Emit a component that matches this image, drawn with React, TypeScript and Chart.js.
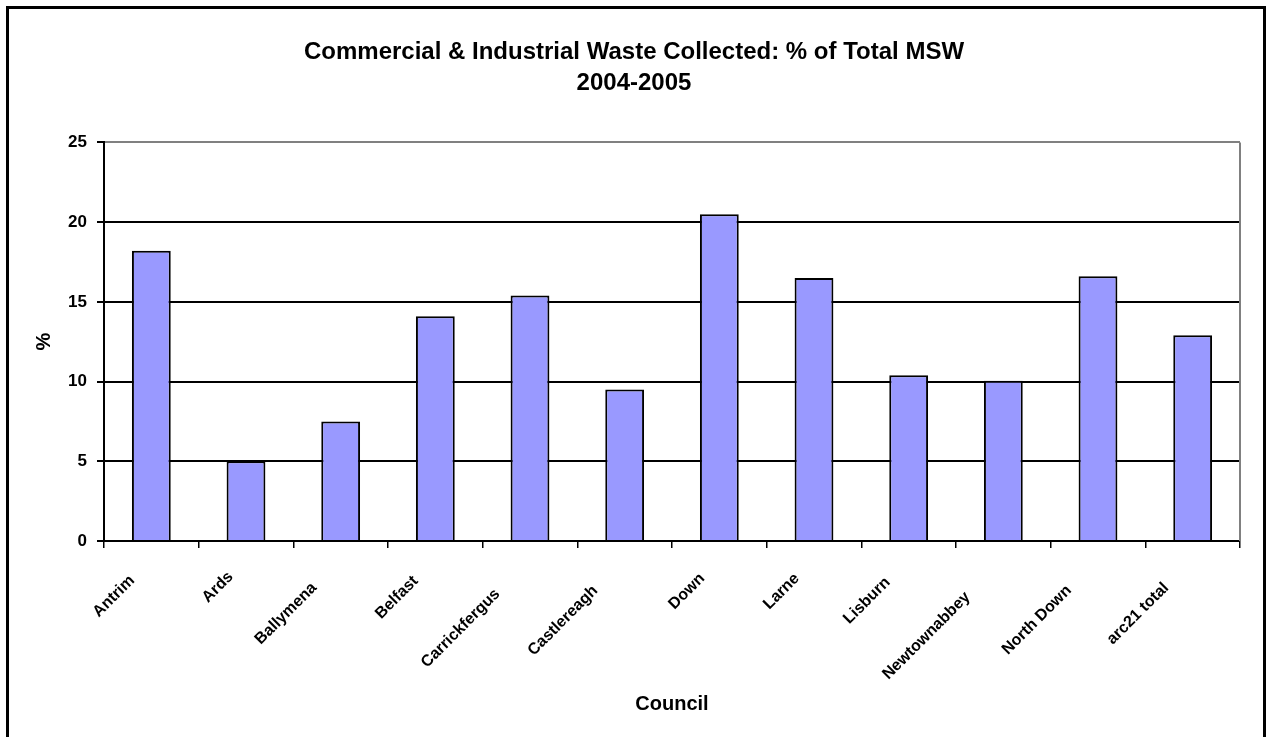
import React, { useEffect, useRef } from "react";
import { Chart, registerables } from "chart.js";

Chart.register(...registerables);

const councils = [
  "Antrim",
  "Ards",
  "Ballymena",
  "Belfast",
  "Carrickfergus",
  "Castlereagh",
  "Down",
  "Larne",
  "Lisburn",
  "Newtownabbey",
  "North Down",
  "arc21 total",
];
const percentValues = [18.2, 5.0, 7.5, 14.1, 15.4, 9.5, 20.5, 16.5, 10.4, 10.05, 16.6, 12.9];
const titleLines = ["Commercial & Industrial Waste Collected: % of Total MSW", "2004-2005"];
const yAxisTitle = "%";
const xAxisTitle = "Council";

const FONT = "'Liberation Sans', Arial, Helvetica, sans-serif";

const framePlugin = {
  id: "framePlugin",
  beforeDraw(chart: any) {
    const ctx = chart.ctx;
    ctx.save();
    ctx.fillStyle = "#ffffff";
    ctx.fillRect(0, 0, chart.width, chart.height);
    ctx.strokeStyle = "#000000";
    ctx.lineWidth = 3;
    ctx.beginPath();
    ctx.moveTo(7.5, chart.height + 10);
    ctx.lineTo(7.5, 7.5);
    ctx.lineTo(chart.width - 5.5, 7.5);
    ctx.lineTo(chart.width - 5.5, chart.height + 10);
    ctx.stroke();
    ctx.restore();
  },
  afterDatasetsDraw(chart: any) {
    const { ctx, chartArea } = chart;
    ctx.save();
    ctx.strokeStyle = "#808080";
    ctx.lineWidth = 2;
    ctx.beginPath();
    ctx.moveTo(chartArea.right, chartArea.top);
    ctx.lineTo(chartArea.right, chartArea.bottom);
    ctx.stroke();
    ctx.restore();
  },
  afterDraw(chart: any) {
    // Excel-style rotated category labels, positioned from the x scale
    const { ctx } = chart;
    const xScale = chart.scales.x;
    const axisY = xScale.top;
    ctx.save();
    ctx.font = "bold 16px " + FONT;
    ctx.fillStyle = "#000000";
    ctx.textAlign = "right";
    ctx.textBaseline = "middle";
    const labels = chart.data.labels as string[];
    labels.forEach((label, i) => {
      const cx = xScale.getPixelForTick(i);
      const w = ctx.measureText(label).width;
      ctx.save();
      ctx.translate(cx - 6, axisY + 24);
      ctx.rotate(-Math.PI / 4);
      ctx.fillText(label, -0.36 * w, 0);
      ctx.restore();
    });
    ctx.restore();
  },
};

export default function App() {
  const canvasRef = useRef<HTMLCanvasElement | null>(null);

  useEffect(() => {
    if (!canvasRef.current) return;
    const chart = new Chart(canvasRef.current, {
      type: "bar",
      data: {
        labels: councils,
        datasets: [
          {
            label: "% of Total MSW",
            data: percentValues,
            backgroundColor: "#9999FF",
            borderColor: "#000000",
            borderWidth: 2,
            barPercentage: 0.41,
            categoryPercentage: 1,
          },
        ],
      },
      options: {
        responsive: false,
        animation: false,
        layout: { padding: { left: 28, right: 30, top: 0, bottom: 0 } },
        plugins: {
          legend: { display: false },
          tooltip: { enabled: false },
          title: {
            display: true,
            text: titleLines,
            color: "#000000",
            font: { family: FONT, size: 24, weight: "bold", lineHeight: 1.3 },
            padding: { top: 37, bottom: 43 },
          },
        },
        scales: {
          x: {
            grid: {
              display: true,
              drawOnChartArea: false,
              drawTicks: true,
              tickLength: 7,
              color: "#000000",
              lineWidth: 1.5,
              offset: true,
            },
            border: { display: true, color: "#000000", width: 2 },
            ticks: {
              display: false,
              autoSkip: false,
            },
            title: {
              display: true,
              text: xAxisTitle,
              color: "#000000",
              font: { family: FONT, size: 20, weight: "bold" },
              padding: { top: 0, bottom: 21 },
            },
            afterFit(scale: any) {
              scale.height = 196;
            },
          },
          y: {
            min: 0,
            max: 25,
            ticks: {
              stepSize: 5,
              color: "#000000",
              font: { family: FONT, size: 17, weight: "bold" },
              padding: 10,
            },
            grid: {
              color: (c: any) => (c.tick && c.tick.value === 25 ? "#808080" : "#000000"),
              lineWidth: 2,
              tickLength: 7,
              tickColor: "#000000",
            },
            border: { display: true, color: "#000000", width: 2 },
            title: {
              display: true,
              text: yAxisTitle,
              color: "#000000",
              font: { family: FONT, size: 20, weight: "bold" },
              padding: { top: 4, bottom: 0 },
            },
            afterFit(scale: any) {
              scale.width = 76;
            },
          },
        },
      },
      plugins: [framePlugin],
    });
    return () => chart.destroy();
  }, []);

  return (
    <div style={{ position: "absolute", left: 0, top: 0, width: 1270, height: 737, background: "#fff" }}>
      <canvas ref={canvasRef} width={1270} height={737} style={{ display: "block" }} />
    </div>
  );
}
